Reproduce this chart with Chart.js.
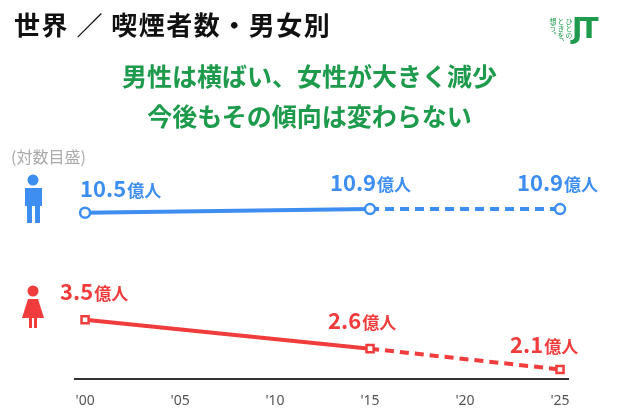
<!DOCTYPE html>
<html><head><meta charset="utf-8">
<script src="https://cdn.jsdelivr.net/npm/chart.js@4"></script>
<style>
body{margin:0;width:619px;height:414px;background:#fff;font-family:"Noto Sans CJK JP","Noto Sans",sans-serif;overflow:hidden;position:relative}
#wrap{position:absolute;left:0;top:0;width:619px;height:414px}
.t{position:absolute;white-space:nowrap}
</style></head><body>
<div id="wrap"><canvas id="c"></canvas></div>
<div class="t" style="left:14px;top:5px;font-size:26px;font-weight:bold;color:#111;letter-spacing:1.5px">世界 ／ 喫煙者数・男女別</div>
<div class="t" style="left:0;width:619px;top:55px;text-align:center;font-size:25px;font-weight:bold;color:#1e9a4c;line-height:40px">男性は横ばい、女性が大きく減少<br>今後もその傾向は変わらない</div>
<div class="t" style="left:11px;top:144px;font-size:16px;color:#aaa">(対数目盛)</div>
<div class="t" style="left:549px;top:18px;font-size:7px;line-height:8px;color:#1e9a4c;writing-mode:vertical-rl">ひとの<br>ときを、<br>想う。</div>
<div class="t" style="left:572px;top:12px;font-size:28px;font-weight:900;color:#1e9a4c;font-family:'DejaVu Sans';letter-spacing:-3px">JT</div>
<script>
const years = [2000, 2015, 2025];
const tickYears = [2000, 2005, 2010, 2015, 2020, 2025];
const maleValues = [10.5, 10.9, 10.9];
const femaleValues = [3.5, 2.6, 2.1];
const unit = '億人';

const BLUE = '#3d8ef0', RED = '#f03c3c';
// label placement: [dx, dy, align]
const maleLabelPos = [[-5, -24, 'left'], [0, -26, 'center'], [37, -26, 'right']];
const femaleLabelPos = [[-25, -28, 'left'], [-42, -28, 'left'], [-50, -24, 'left']];

const toPts = v => years.map((x, i) => ({x, y: v[i]}));

const labels = {
  id: 'labels',
  afterDatasetsDraw(chart) {
    const ctx = chart.ctx;
    [[0, maleValues, maleLabelPos, BLUE], [1, femaleValues, femaleLabelPos, RED]].forEach(([di, vals, pos, col]) => {
      chart.getDatasetMeta(di).data.forEach((p, i) => {
        const num = vals[i].toFixed(1);
        ctx.save();
        ctx.fillStyle = col;
        ctx.font = 'bold 22px "Noto Sans CJK JP"';
        const w1 = ctx.measureText(num).width;
        ctx.font = 'bold 17px "Noto Sans CJK JP"';
        const w2 = ctx.measureText(unit).width;
        let x = p.x + pos[i][0];
        const y = p.y + pos[i][1] + 8;
        if (pos[i][2] === 'center') x -= (w1 + w2) / 2;
        if (pos[i][2] === 'right') x -= (w1 + w2);
        ctx.font = 'bold 22px "Noto Sans CJK JP"';
        ctx.fillText(num, x, y);
        ctx.font = 'bold 17px "Noto Sans CJK JP"';
        ctx.fillText(unit, x + w1 + 1, y);
        ctx.restore();
      });
    });
    // person icons
    ctx.save();
    ctx.fillStyle = BLUE;
    ctx.beginPath(); ctx.arc(33, 180, 5.5, 0, 7); ctx.fill();
    ctx.fillRect(25, 188, 17, 18);
    ctx.fillRect(27, 204, 5, 19); ctx.fillRect(35, 204, 5, 19);
    ctx.fillStyle = RED;
    ctx.beginPath(); ctx.arc(33, 291, 5.5, 0, 7); ctx.fill();
    ctx.beginPath(); ctx.moveTo(28, 299); ctx.lineTo(38, 299); ctx.lineTo(44, 318); ctx.lineTo(22, 318); ctx.closePath(); ctx.fill();
    ctx.fillRect(29, 317, 3, 11); ctx.fillRect(34, 317, 3, 11);
    ctx.restore();
  }
};

const dashAfter = ctx => ctx.p0DataIndex >= 1 ? [9, 6] : undefined;

new Chart(document.getElementById('c'), {
  type: 'line',
  data: {
    datasets: [
      {data: toPts(maleValues), borderColor: BLUE, borderWidth: 4, pointStyle: 'circle', pointRadius: 5,
       pointBorderWidth: 2.5, pointBackgroundColor: '#fff', pointBorderColor: BLUE, segment: {borderDash: dashAfter}},
      {data: toPts(femaleValues), borderColor: RED, borderWidth: 4, pointStyle: 'rect', pointRadius: 5,
       pointBorderWidth: 2.5, pointBackgroundColor: '#fff', pointBorderColor: RED, segment: {borderDash: dashAfter}}
    ]
  },
  options: {
    responsive: true, maintainAspectRatio: false, animation: false,
    layout: {padding: {left: 75, right: 51, top: 150, bottom: 0}},
    plugins: {legend: {display: false}, tooltip: {enabled: false}},
    scales: {
      x: {type: 'linear', min: 1999.47, max: 2025.42,
        afterBuildTicks: s => { s.ticks = tickYears.map(v => ({value: v})); },
        ticks: {callback: v => "'" + String(v).slice(2), color: '#555', font: {size: 14, family: 'Noto Sans'}, padding: 5},
        grid: {display: false}, border: {color: '#333', width: 2}},
      y: {type: 'logarithmic', min: 1.9, max: 20, display: false}
    }
  },
  plugins: [labels]
});
</script>
</body></html>
